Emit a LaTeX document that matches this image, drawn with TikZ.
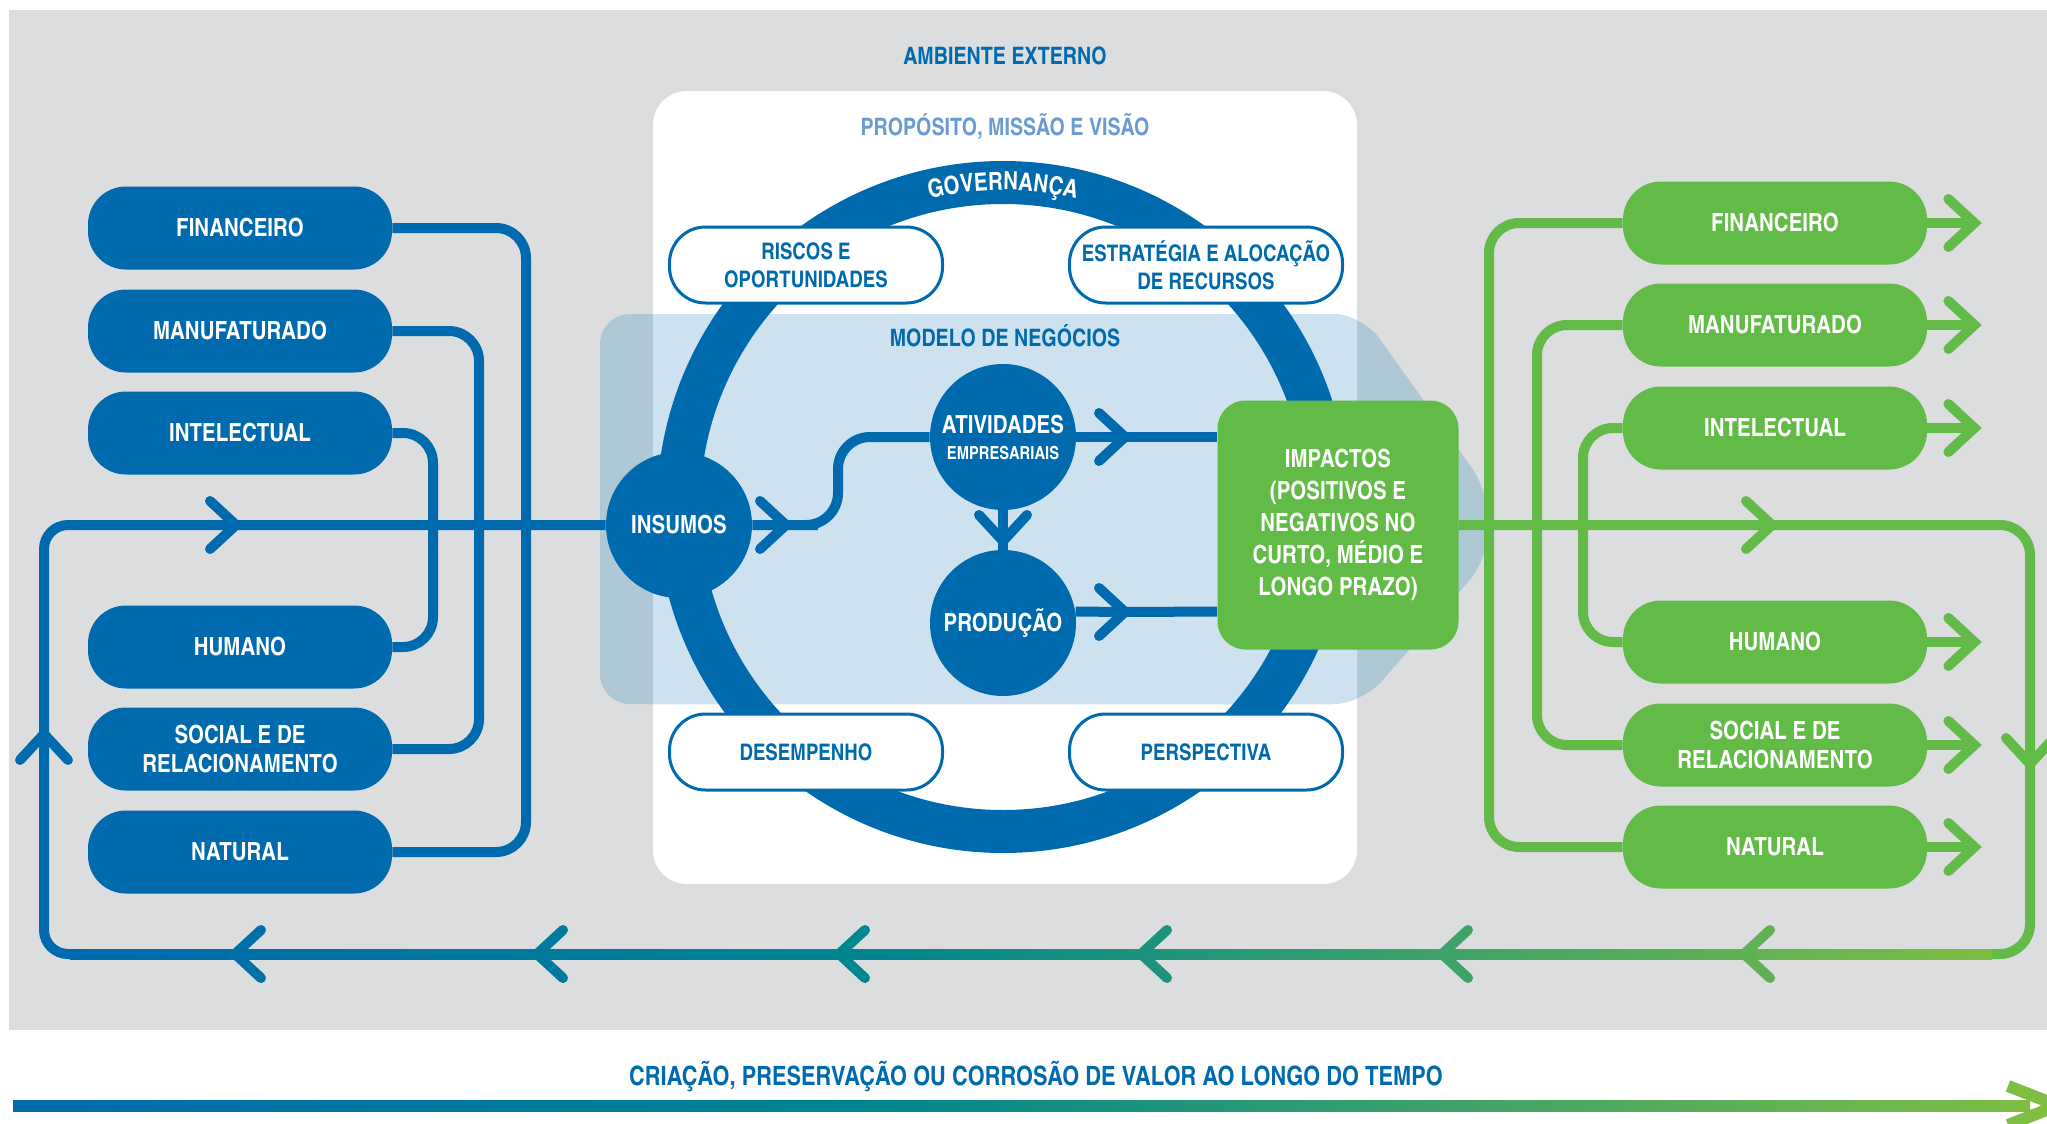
\documentclass[tikz,border=0pt]{standalone}
\usepackage{fontspec}
\usepackage[rgb]{xcolor}
\usepackage{tikz}
\usetikzlibrary{decorations.text}

\newfontfamily\cnb{texgyreheroscn-bold}[Extension=.otf]
\newcommand\fpill{\cnb\fontsize{12.5pt}{14.5pt}\selectfont}
\newcommand\fring{\cnb\fontsize{11.4pt}{14pt}\selectfont}
\newcommand\fsmall{\cnb\fontsize{9pt}{10pt}\selectfont}
\newcommand\fimp{\cnb\fontsize{12.5pt}{16pt}\selectfont}
\newcommand\ftitle{\cnb\fontsize{12pt}{14pt}\selectfont}
\newcommand\fgov{\cnb\fontsize{12.5pt}{12.5pt}\selectfont}
\newcommand\fval{\cnb\fontsize{13.3pt}{15pt}\selectfont}

\definecolor{ibl}{HTML}{006AAF}
\definecolor{igr}{HTML}{62BB46}
\definecolor{ilg}{HTML}{7DBE43}
\definecolor{iteal}{HTML}{00868F}
\definecolor{igray}{HTML}{DCDDDF}
\definecolor{ilb}{HTML}{CDE1EE}
\definecolor{ilbd}{HTML}{AFC8D6}
\definecolor{iprp}{HTML}{6A9BD1}

\begin{document}
\begin{tikzpicture}[x=0.5pt,y=-0.5pt,
	bpill/.style={rectangle,rounded corners=19pt,fill=ibl,text=white,minimum width=152pt,minimum height=41.5pt,inner sep=0pt,align=center,font=\fpill},
	gpill/.style={bpill,fill=igr},
	rpill/.style={rectangle,rounded corners=18pt,draw=ibl,line width=1.5pt,fill=white,text=ibl,minimum width=136.5pt,minimum height=38pt,inner sep=0pt,align=center,font=\fring},
	ball/.style={circle,fill=ibl,text=white,minimum size=73pt,inner sep=0pt,align=center,font=\fpill},
	bline/.style={ibl,line width=5pt},
	gline/.style={igr,line width=5pt},
	chev/.pic={\draw[line cap=round,line join=miter,sharp corners] (-13pt,12pt) -- (0pt,0pt) -- (-13pt,-12pt);}]

\useasboundingbox (0,0) rectangle (2047,1124);
\clip (0,0) rectangle (2047,1124);
\fill[igray] (9,10) rectangle (2047,1030);
\fill[white,rounded corners=17pt] (653,91) rectangle (1357,884);

% modelo de negocios
\fill[ilbd,rounded corners=15pt] (600,314) -- (1362,314) -- (1489,492) -- (1489,558) -- (1362,704) -- (600,704) -- cycle;
\begin{scope}
	\clip (653,91) rectangle (1357,884);
	\fill[ilb,rounded corners=15pt] (600,314) -- (1362,314) -- (1489,492) -- (1489,558) -- (1362,704) -- (600,704) -- cycle;
\end{scope}

\node[text=ibl,font=\ftitle] (amb) at (1005,56) {AMBIENTE EXTERNO};
\node[text=iprp,font=\ftitle] (pmv) at (1005,127) {PROPÓSITO, MISSÃO E VISÃO};
\node[text=ibl,font=\ftitle] (mdn) at (1005,336) {MODELO DE NEGÓCIOS};

\draw[ibl,line width=21.5pt] (1003,507) circle (324.5);
\path[decorate,decoration={text along path,text align=center,text={|\fgov\color{white}|GOVERNANÇA}}] (1003,507) ++(-125:317) arc (-125:-55:317);

\node[rpill] (ris) at (806,265) {RISCOS E\\OPORTUNIDADES};
\node[rpill] (est) at (1206,265) {ESTRATÉGIA E ALOCAÇÃO\\DE RECURSOS};
\node[rpill] (des) at (806,752) {DESEMPENHO};
\node[rpill] (per) at (1206,752) {PERSPECTIVA};

\node[ball] (ins) at (679,525) {INSUMOS};
\node[ball] (ati) at (1003,437) {ATIVIDADES\\[-1.5pt]{\fsmall EMPRESARIAIS}};
\node[ball] (pro) at (1003,623) {PRODUÇÃO};
\node[rectangle,rounded corners=14pt,fill=igr,text=white,minimum width=120.5pt,minimum height=124.5pt,align=center,font=\fimp] (imp) at (1338,525) {IMPACTOS\\(POSITIVOS E\\NEGATIVOS NO\\CURTO, MÉDIO E\\LONGO PRAZO)};

\foreach \i/\y/\t in {1/228/FINANCEIRO,2/331/MANUFATURADO,3/433/INTELECTUAL,4/647/HUMANO,5/749/{SOCIAL E DE\\RELACIONAMENTO},6/852/NATURAL}
	\node[bpill] (b\i) at (240,\y) {\t};
\foreach \i/\y/\t in {1/223/FINANCEIRO,2/325/MANUFATURADO,3/428/INTELECTUAL,4/642/HUMANO,5/745/{SOCIAL E DE\\RELACIONAMENTO},6/847/NATURAL}
	\node[gpill] (g\i) at (1775,\y) {\t};

\foreach \a/\b/\x in {1/6/526,2/5/479,3/4/433}{
	\coordinate (k) at (\x,0);
	\draw[bline,rounded corners=15pt] (b\a.east) -- (b\a.east -| k) -- (b\b.east -| k) -- (b\b.east);
}
\foreach \a/\b/\x in {1/6/1489,2/5/1537,3/4/1583}{
	\coordinate (k) at (\x,0);
	\draw[gline,rounded corners=15pt] (g\a.west) -- (g\a.west -| k) -- (g\b.west -| k) -- (g\b.west);
}

\draw[bline,rounded corners=12pt] (80,954) -- (44,954) -- (44,734) pic[rotate=90]{chev} -- (44,525) -- (236,525) pic{chev} -- (ins.west);
\draw[bline,rounded corners=16pt] (ins.east) -- (786,525) pic{chev} -- (838,525) -- (838,437) -- (ati.west);
\draw[bline] (ati.south) -- (1003,541) pic[rotate=-90]{chev} -- (pro.north);
\draw[bline] (ati.east) -- (1125,437) pic{chev} -- (ati.east -| imp.west);
\draw[bline] (pro.9) -- (1125,612) pic{chev} -- (pro.9 -| imp.west);

\draw[gline,rounded corners=15pt] (imp.east) -- (1772,525) pic{chev} -- (2030,525) -- (2030,764) pic[rotate=-90]{chev} -- (2030,954) -- (1985,954);
\foreach \i in {1,...,6}
	\draw[gline] (g\i.east) -- ++(47,0) pic{chev};

%valor
\shade[left color=ibl,right color=iteal] (70,949) rectangle (880,959);
\shade[left color=iteal,right color=ilg] (879,949) rectangle (1992,959);
\foreach \x/\c in {235/ibl!80!iteal,537/ibl!42!iteal,839/iteal,1141/ilg!23!iteal,1442/ilg!50!iteal,1744/ilg!77!iteal}
	\pic[color=\c,line width=5pt,rotate=180] at (\x,954) {chev};

\node[text=ibl,font=\fval] (tmp) at (1036,1077) {CRIAÇÃO, PRESERVAÇÃO OU CORROSÃO DE VALOR AO LONGO DO TEMPO};
\shade[left color=ibl,right color=iteal] (13,1100) rectangle (880,1111);
\shade[left color=iteal,right color=ilg] (879,1100) rectangle (2030,1111);
\draw[ilg,line width=6pt,line join=miter] (2008,1086) -- (2058,1105.5) -- (2008,1125);
\end{tikzpicture}
\end{document}
